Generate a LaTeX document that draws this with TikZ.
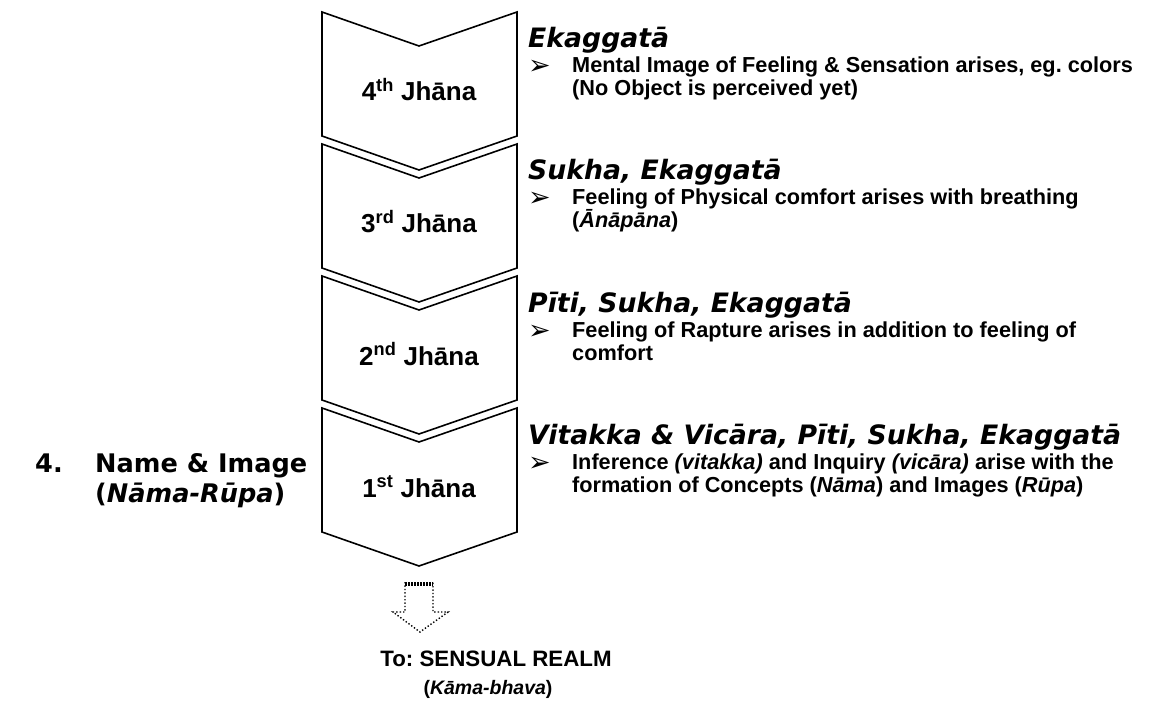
\documentclass[tikz,border=0pt]{standalone}
\usepackage{fontspec}
\setmainfont{Liberation Sans}
\newfontfamily\verd{DejaVu Sans}
\newfontfamily\dingfont{DejaVu Sans}
\frenchspacing

\begin{document}
\begin{tikzpicture}[x=1pt,y=-1pt]
    \tikzset{jhana/.style={draw, line width=1.6pt, line join=miter}}
    \tikzset{jlabel/.style={font=\fontsize{26}{28}\selectfont\bfseries, anchor=base}}
    \tikzset{factor/.style={font=\verd\fontsize{26.7}{30}\selectfont\bfseries\itshape, anchor=base west, inner sep=0pt}}
    \tikzset{stagename/.style={font=\verd\fontsize{25.6}{30}\selectfont\bfseries, anchor=base west, inner sep=0pt}}
    \tikzset{body/.style={font=\fontsize{21.7}{24}\selectfont\bfseries, anchor=base west, inner sep=0pt}}
    \tikzset{tick/.style={font=\dingfont\fontsize{27}{30}\selectfont, anchor=base west, inner sep=0pt}}
    \useasboundingbox (0,0) rectangle (1155,703);
    % the four jhana chevrons
    \foreach \t/\n/\s in {12/4/th, 144/3/rd, 276/2/nd, 408/1/st}{
        \draw[jhana] (322,\t) -- (419,\t+34) -- (517,\t) -- (517,\t+124) -- (419,\t+158) -- (322,\t+124) -- cycle;
        \node[jlabel] (j\n) at (419,\t+89) {\n\textsuperscript{\s} Jhāna};
    }
    % factors and notes
    \node[factor] (f4) at (528,48) {Ekaggatā};
    \node[tick] (b4) at (528,75) {➢};
    \node[body] (n4a) at (572,73) {Mental Image of Feeling \& Sensation arises, eg. colors};
    \node[body] (n4b) at (572,96) {(No Object is perceived yet)};

    \node[factor] (f3) at (528,180) {Sukha, Ekaggatā};
    \node[tick] (b3) at (528,207) {➢};
    \node[body] (n3a) at (572,205) {Feeling of Physical comfort arises with breathing};
    \node[body] (n3b) at (572,228) {(\textit{Ānāpāna})};

    \node[factor] (f2) at (528,312) {Pīti, Sukha, Ekaggatā};
    \node[tick] (b2) at (528,339) {➢};
    \node[body] (n2a) at (572,337) {Feeling of Rapture arises in addition to feeling of};
    \node[body] (n2b) at (572,360) {comfort};

    \node[factor] (f1) at (528,444) {Vitakka \& Vicāra, Pīti, Sukha, Ekaggatā};
    \node[tick] (b1) at (528,471) {➢};
    \node[body] (n1a) at (572,469) {Inference \textit{(vitakka)} and Inquiry \textit{(vicāra)} arise with the};
    \node[body] (n1b) at (572,492) {formation of Concepts (\textit{Nāma}) and Images (\textit{Rūpa})};

    % stage name
    \node[stagename] (num) at (35,472) {4.};
    \node[stagename] (stage) at (95,472) {Name \& Image};
    \node[stagename] (pali) at (95,502) {(\textit{Nāma-Rūpa})};

    % way out
    \draw[dotted, line width=1.4pt] (405,582) -- (405,612) -- (393,612) -- (420,632) -- (448,612) -- (433,612) -- (433,582);
    \draw[line width=4pt, dash pattern=on 1.5pt off 1.5pt] (405,584) -- (433,584);
    \node[jlabel, font=\fontsize{22.3}{26}\selectfont\bfseries] (to) at (496,666) {To: SENSUAL REALM};
    \node[jlabel, font=\fontsize{19.5}{24}\selectfont\bfseries] (kama) at (488,694) {(\textit{Kāma-bhava})};
\end{tikzpicture}
\end{document}
